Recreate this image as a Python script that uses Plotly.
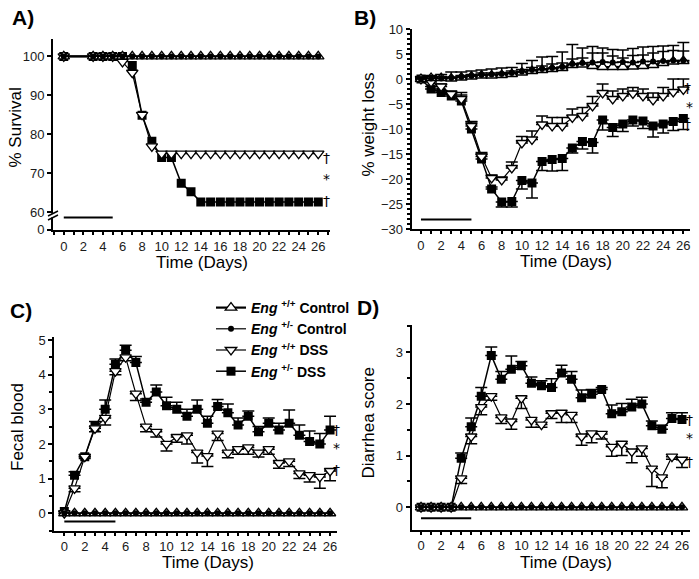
import plotly.graph_objects as go

FONT = "Liberation Sans, Arial, sans-serif"
W, H = 699, 579

# ---------------- data ----------------
days = list(range(27))
dss_period = [0, 5]
x_ticks = list(range(0, 27, 2))

# A) survival
surv_days = [0, 3, 4, 5, 6, 7, 8, 9, 10, 11, 12, 13, 14, 15, 16, 17, 18, 19, 20, 21, 22, 23, 24, 25, 26]
surv_wt_ctrl = [100, 100, 100, 100, 100, 100, 100, 100, 100, 100, 100, 100, 100, 100, 100, 100, 100, 100, 100, 100, 100, 100, 100, 100, 100]
surv_het_ctrl = [100, 100, 100, 100, 100, 100, 100, 100, 100, 100, 100, 100, 100, 100, 100, 100, 100, 100, 100, 100, 100, 100, 100, 100, 100]
surv_wt_dss = [100, 100, 100, 100, 98.6, 95.8, 85, 76.9, 75, 75, 75, 75, 75, 75, 75, 75, 75, 75, 75, 75, 75, 75, 75, 75, 75]
surv_het_dss = [100, 100, 100, 100, 100, 97.7, 84.9, 78.2, 74, 74, 67.4, 65.2, 62.6, 62.6, 62.6, 62.6, 62.6, 62.6, 62.6, 62.6, 62.6, 62.6, 62.6, 62.6, 62.6]

# B) % weight loss
wt_wt_ctrl = [0, 0.2, 0.2, 0.1, 0.3, 0.5, 0.7, 0.7, 0.8, 1.0, 1.3, 1.6, 1.8, 2.0, 2.2, 2.8, 2.9, 2.6, 2.4, 2.4, 2.4, 2.5, 2.6, 2.8, 3.2, 3.5, 3.6]
wt_wt_ctrl_err = [0.2, 0.3, 0.3, 0.3, 0.4, 0.4, 0.5, 0.5, 0.5, 0.6, 0.6, 0.7, 0.8, 1.0, 1.0, 1.2, 1.3, 2.6, 2.8, 2.2, 1.8, 2.2, 2.2, 2.4, 2.3, 2.2, 2.0]
wt_het_ctrl = [0, 0.1, 0.1, 0.2, 0.4, 0.6, 0.8, 0.9, 1.0, 1.2, 1.5, 1.8, 2.0, 2.2, 2.4, 3.0, 3.2, 3.3, 3.4, 3.3, 3.4, 3.3, 3.5, 3.5, 3.6, 3.7, 3.7]
wt_het_ctrl_err = [0.3, 0.6, 0.8, 1.2, 1.0, 1.0, 1.0, 1.1, 1.2, 1.1, 1.6, 1.9, 2.4, 2.3, 3.0, 3.9, 3.0, 3.2, 2.8, 2.6, 2.4, 2.8, 2.9, 3.0, 3.0, 3.0, 3.6]
wt_wt_dss = [0, -0.6, -1.5, -3.0, -4.0, -9.4, -15.5, -19.8, -20.2, -17.8, -12.8, -12.1, -9.1, -9.4, -9.4, -7.7, -7.4, -5.4, -2.8, -4.0, -3.4, -2.9, -3.4, -4.2, -3.4, -2.6, -2.1]
wt_wt_dss_err = [0.3, 0.4, 0.5, 0.6, 0.8, 0.8, 0.8, 0.6, 0.6, 1.2, 1.3, 1.7, 1.7, 1.7, 1.7, 1.7, 1.7, 1.9, 1.8, 1.6, 1.4, 1.2, 1.4, 1.4, 1.7, 2.6, 2.1]
wt_het_dss = [0, -2.0, -2.7, -3.4, -4.4, -10.0, -16.0, -22.0, -24.6, -24.5, -20.3, -20.8, -16.5, -16.1, -15.9, -13.8, -12.5, -12.7, -8.2, -9.7, -9.0, -8.2, -8.4, -9.4, -9.0, -8.5, -7.9]
wt_het_dss_err_up = [0.3, 0.5, 0.4, 0.6, 1.7, 1.5, 1.0, 0.4, 0, 0, 0, 0, 0, 0, 0, 0, 0, 0, 0, 0, 0, 0, 0, 0, 0, 0, 0]
wt_het_dss_err_dn = [0, 0, 0, 0, 0, 0, 0, 0, 1.0, 1.1, 1.7, 3.0, 1.8, 2.3, 2.4, 1.0, 1.5, 2.1, 2.0, 1.8, 1.5, 1.2, 1.5, 2.2, 1.8, 1.8, 2.2]

# C) fecal blood
fb_wt_ctrl = [0, 0, 0, 0, 0, 0, 0, 0, 0, 0, 0, 0, 0, 0, 0, 0, 0, 0, 0, 0, 0, 0, 0, 0, 0, 0, 0]
fb_het_ctrl = [0, 0, 0, 0, 0, 0, 0, 0, 0, 0, 0, 0, 0, 0, 0, 0, 0, 0, 0, 0, 0, 0, 0, 0, 0, 0, 0]
fb_wt_dss = [0, 0.72, 1.63, 2.45, 2.75, 4.1, 4.5, 3.45, 2.5, 2.35, 2.0, 2.2, 2.25, 1.75, 1.65, 2.3, 1.75, 1.85, 1.9, 1.75, 1.85, 1.45, 1.5, 1.15, 1.1, 1.05, 1.22]
fb_wt_dss_err = [0, 0.1, 0.05, 0.1, 0.2, 0.1, 0.1, 0.2, 0.15, 0.15, 0.2, 0.15, 0.25, 0.3, 0.3, 0.2, 0.15, 0.15, 0.2, 0.13, 0.15, 0.15, 0.15, 0.15, 0.2, 0.33, 0.28]
fb_het_dss = [0.05, 1.1, 1.63, 2.5, 3.0, 4.3, 4.7, 4.35, 3.2, 3.5, 3.1, 3.0, 2.8, 3.0, 2.6, 3.08, 2.9, 2.55, 2.8, 2.35, 2.6, 2.4, 2.6, 2.25, 2.07, 2.0, 2.4]
fb_het_dss_err = [0, 0.1, 0.05, 0.15, 0.27, 0.15, 0.15, 0.17, 0.1, 0.2, 0.25, 0.2, 0.2, 0.27, 0.2, 0.2, 0.25, 0.2, 0.15, 0.15, 0.15, 0.2, 0.38, 0.3, 0.3, 0.3, 0.4]

# D) diarrhea score
ds_wt_ctrl = [0, 0, 0, 0, 0, 0, 0, 0, 0, 0, 0, 0, 0, 0, 0, 0, 0, 0, 0, 0, 0, 0, 0, 0, 0, 0, 0]
ds_het_ctrl = [0, 0, 0, 0, 0, 0, 0, 0, 0, 0, 0, 0, 0, 0, 0, 0, 0, 0, 0, 0, 0, 0, 0, 0, 0, 0, 0]
ds_wt_dss = [0, 0, 0, 0, 0.56, 1.37, 1.94, 2.15, 1.74, 1.66, 2.11, 1.69, 1.6, 1.82, 1.83, 1.79, 1.37, 1.43, 1.42, 1.17, 1.23, 1.08, 1.14, 0.75, 0.58, 0.98, 0.92]
ds_wt_dss_err = [0, 0, 0, 0, 0.1, 0.14, 0.15, 0.08, 0.12, 0.15, 0.2, 0.14, 0.05, 0.1, 0.19, 0.15, 0.17, 0.18, 0.1, 0.18, 0.23, 0.22, 0.15, 0.35, 0.2, 0.05, 0.15]
ds_het_dss = [0, 0, 0, 0, 0.95, 1.56, 2.15, 2.94, 2.48, 2.67, 2.74, 2.4, 2.35, 2.32, 2.6, 2.48, 2.12, 2.19, 2.28, 1.81, 1.85, 1.94, 2.0, 1.58, 1.51, 1.72, 1.7]
ds_het_dss_err = [0, 0, 0, 0, 0.1, 0.17, 0.17, 0.16, 0.15, 0.26, 0.08, 0.12, 0.1, 0.17, 0.15, 0.15, 0.15, 0.09, 0.04, 0.17, 0.16, 0.15, 0.13, 0.09, 0.08, 0.11, 0.13]

legend_names = ["<b><i>Eng</i> <sup>+/+</sup> Control</b>", "<b><i>Eng</i> <sup>+/-</sup> Control</b>",
                "<b><i>Eng</i> <sup>+/+</sup> DSS</b>", "<b><i>Eng</i> <sup>+/-</sup> DSS</b>"]
panel_labels = ["A)", "B)", "C)", "D)"]
y_titles = ["% Survival", "% weight loss", "Fecal blood", "Diarrhea score"]
x_title = "Time (Days)"

# ---------------- figure ----------------
def px(x):
    return x / W

def py(y):
    return 1 - y / H

fig = go.Figure()

def add_panel(xa, ya, xs, ctrl_wt, ctrl_het, dss_wt, dss_het,
              e_ctrl_wt=None, e_ctrl_het=None, e_wt=None, e_wt_dn=None,
              e_het_up=None, e_het_dn=None, legend=False):
    def err(up, dn):
        if up is None and dn is None:
            return None
        return dict(type="data", symmetric=False,
                    array=up if up is not None else [0] * len(xs),
                    arrayminus=dn if dn is not None else [0] * len(xs),
                    color="black", thickness=1.5, width=6)
    fig.add_trace(go.Scatter(x=xs, y=dss_het, xaxis=xa, yaxis=ya, mode="lines+markers",
                             name=legend_names[3], showlegend=legend, legendrank=4,
                             line=dict(color="black", width=1.5),
                             marker=dict(symbol="square", size=9, color="black"),
                             error_y=err(e_het_up, e_het_dn)))
    fig.add_trace(go.Scatter(x=xs, y=dss_wt, xaxis=xa, yaxis=ya, mode="lines+markers",
                             name=legend_names[2], showlegend=legend, legendrank=3,
                             line=dict(color="black", width=1.2),
                             marker=dict(symbol="triangle-down", size=10, color="white",
                                         line=dict(color="black", width=1.3)),
                             error_y=err(e_wt, e_wt_dn)))
    fig.add_trace(go.Scatter(x=xs, y=ctrl_wt, xaxis=xa, yaxis=ya, mode="lines+markers",
                             name=legend_names[0], showlegend=legend, legendrank=1,
                             line=dict(color="black", width=2.2),
                             marker=dict(symbol="triangle-up", size=10, color="white",
                                         line=dict(color="black", width=1.3)),
                             error_y=err(e_ctrl_wt, None)))
    fig.add_trace(go.Scatter(x=xs, y=ctrl_het, xaxis=xa, yaxis=ya, mode="lines+markers",
                             name=legend_names[1], showlegend=legend, legendrank=2,
                             line=dict(color="black", width=1.2),
                             marker=dict(symbol="circle", size=6, color="black"),
                             error_y=err(e_ctrl_het, None)))

add_panel("x", "y", surv_days, surv_wt_ctrl, surv_het_ctrl, surv_wt_dss, surv_het_dss)
add_panel("x2", "y2", days, wt_wt_ctrl, wt_het_ctrl, wt_wt_dss, wt_het_dss,
          e_ctrl_wt=wt_wt_ctrl_err, e_ctrl_het=wt_het_ctrl_err, e_wt=wt_wt_dss_err,
          e_het_up=wt_het_dss_err_up, e_het_dn=wt_het_dss_err_dn)
add_panel("x3", "y3", days, fb_wt_ctrl, fb_het_ctrl, fb_wt_dss, fb_het_dss,
          e_wt_dn=fb_wt_dss_err, e_het_up=fb_het_dss_err, legend=True)
add_panel("x4", "y4", days, ds_wt_ctrl, ds_het_ctrl, ds_wt_dss, ds_het_dss,
          e_wt_dn=ds_wt_dss_err, e_het_up=ds_het_dss_err)

tickfont = dict(family=FONT, size=13, color="#1a1a1a")

def xax(domain, rng, anchor):
    return dict(domain=domain, range=rng, anchor=anchor, tickvals=x_ticks,
                ticks="outside", ticklen=3, tickwidth=1.5, tickcolor="black",
                showline=True, linewidth=2, linecolor="black", showgrid=False,
                zeroline=False, tickfont=tickfont, automargin=False,
                minor=dict(dtick=1, tick0=0, ticks="outside", ticklen=3,
                           tickwidth=1.5, tickcolor="black", showgrid=False))

def yax(domain, rng, anchor, **kw):
    d = dict(domain=domain, range=rng, anchor=anchor, ticks="outside", ticklen=4,
             tickwidth=1.5, tickcolor="black", showline=True, linewidth=2,
             linecolor="black", showgrid=False, zeroline=False, tickfont=tickfont,
             automargin=False)
    d.update(kw)
    return d

fig.update_layout(
    width=W, height=H, margin=dict(l=0, r=0, t=0, b=0, pad=0, autoexpand=False),
    paper_bgcolor="white", plot_bgcolor="white",
    font=dict(family=FONT, color="black"),
    xaxis=xax([px(53), px(330)], [-1.1, 27.2], "y"),
    yaxis=yax([py(230), py(39.3)], [55.4, 104.4], "x",
              tickvals=[55.5, 60, 70, 80, 90, 100],
              ticktext=["0", "60", "70", "80", "90", "100"]),
    xaxis2=xax([px(411.7), px(690)], [-0.92, 26.66], "y2"),
    yaxis2=yax([py(229), py(29)], [-30, 10], "x2", dtick=5,
               minor=dict(dtick=1, ticks="outside", ticklen=3, tickwidth=1.5,
                          tickcolor="black", showgrid=False)),
    xaxis3=xax([px(54.3), px(336.7)], [-0.98, 26.65], "y3"),
    yaxis3=yax([py(530.6), py(336.5)], [-0.5, 5.1], "x3", tickvals=[0, 1, 2, 3, 4, 5],
               minor=dict(dtick=0.5, tick0=0, ticks="outside", ticklen=3, tickwidth=1.5,
                          tickcolor="black", showgrid=False)),
    xaxis4=xax([px(411.7), px(690)], [-0.93, 26.8], "y4"),
    yaxis4=yax([py(529.5), py(324.9)], [-0.43, 3.53], "x4", tickvals=[0, 1, 2, 3],
               minor=dict(dtick=0.5, tick0=0, ticks="outside", ticklen=3, tickwidth=1.5,
                          tickcolor="black", showgrid=False)),
    legend=dict(x=px(211), y=py(292), xanchor="left", yanchor="top",
                font=dict(family=FONT, size=14, color="black"),
                bgcolor="rgba(0,0,0,0)", tracegroupgap=0, itemwidth=30,
                traceorder="normal"),
    showlegend=True,
)

# DSS treatment bars
for xa, ya, yv in [("x", "y", 58.6), ("x2", "y2", -28.1), ("x3", "y3", -0.24), ("x4", "y4", -0.21)]:
    fig.add_shape(type="line", xref=xa, yref=ya, x0=dss_period[0], x1=dss_period[1],
                  y0=yv, y1=yv, line=dict(color="black", width=2))

# axis break in A
fig.add_shape(type="rect", xref="paper", yref="paper", x0=px(50), x1=px(56),
              y0=py(217.5), y1=py(213.5), fillcolor="white", line=dict(width=0))
for yy in (213.5, 217.5):
    fig.add_shape(type="line", xref="paper", yref="paper", x0=px(48), x1=px(58),
                  y0=py(yy + 2.5), y1=py(yy - 2.5), line=dict(color="black", width=1.5))

anns = []
for lab, (x, y) in zip(panel_labels, [(23, 17.5), (365, 17), (21, 310), (368, 307.5)]):
    anns.append(dict(text="<b>" + lab + "</b>", x=px(x), y=py(y), xref="paper", yref="paper",
                     showarrow=False, xanchor="center", yanchor="middle",
                     font=dict(family=FONT, size=21, color="black")))
for (x, y) in [(202, 262), (566, 261), (208, 562), (566, 562)]:
    anns.append(dict(text=x_title, x=px(x), y=py(y), xref="paper", yref="paper",
                     showarrow=False, xanchor="center", yanchor="middle",
                     font=dict(family=FONT, size=17, color="black")))
for t, (x, y) in zip(y_titles, [(15, 127.5), (367.5, 125), (17.5, 427.5), (367.5, 423)]):
    anns.append(dict(text=t, x=px(x), y=py(y), xref="paper", yref="paper", textangle=-90,
                     showarrow=False, xanchor="center", yanchor="middle",
                     font=dict(family=FONT, size=17, color="black")))
sig = [(326, 158, "†"), (326, 179, "*"), (326, 201, "†"),
       (687, 88, "†"), (689, 107, "*"), (687, 125, "†"),
       (336, 430, "†"), (336, 448, "*"), (336, 470, "†"),
       (689, 420, "†"), (689, 438, "*"), (689, 462, "†")]
for x, y, s in sig:
    anns.append(dict(text=s, x=px(x), y=py(y), xref="paper", yref="paper",
                     showarrow=False, xanchor="center", yanchor="middle",
                     font=dict(family="DejaVu Sans", size=14, color="black")))
fig.update_layout(annotations=anns)

fig.write_html(
    "out.html",
    config={"displayModeBar": False},
    post_script=("document.body.style.margin='0';document.body.style.padding='0';"
                 "var d=document.getElementById('{plot_id}');"
                 "d.style.position='absolute';d.style.left='0px';d.style.top='0px';"),
)
